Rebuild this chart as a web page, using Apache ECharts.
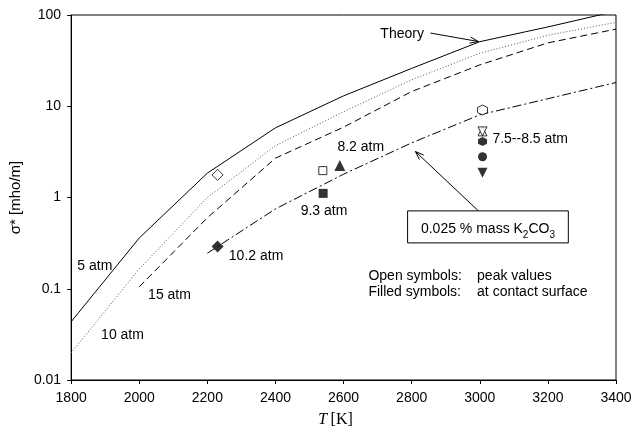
<!DOCTYPE html>
<html>
<head>
<meta charset="UTF-8"/>
<title>sigma vs T</title>
<style>
    * { margin: 0; padding: 0; }
    body { background: #fff; }
    #main { width: 639px; height: 437px; }
</style>
<script src="https://cdn.jsdelivr.net/npm/echarts@6/dist/echarts.min.js"></script>
</head>
<body>
<div id="main"></div>
<script>
    // temperature grid of the curves
    const temps = [1800, 2000, 2200, 2400, 2600, 2800, 3000, 3200, 3400]
    const theory5 = [0.0435, 0.36, 1.85, 5.8, 13, 26, 51, 74, 110]
    const theory10 = [0.0198, 0.165, 1.0, 3.7, 8.7, 19.5, 38, 60, 83]
    const theory15 = [null, 0.105, 0.6, 2.7, 5.9, 14.5, 28.4, 49.5, 70]
    const k2co3 = [null, null, 0.245, 0.75, 1.8, 3.97, 8.05, 12.1, 18.2]

    // measured points  [T, sigma, symbol, size, rotate]
    const hexagon = 'path://M0,-10 L8.66,-5 L8.66,5 L0,10 L-8.66,5 L-8.66,-5 Z'
    const openPts = [
        [2230, 1.77, 'diamond', 11, 0],
        [2539, 1.97, 'rect', 8, 0],
        [3008, 9.1, hexagon, 10, 0],
        [3008, 5.3, 'triangle', 9, 0],
        [3008, 5.3, 'triangle', 9, 180]
    ]
    const filledPts = [
        [2230, 0.29, 'diamond', 12, 0],
        [2540, 1.11, 'rect', 9, 0],
        [2589, 2.24, 'triangle', 11, 0],
        [3008, 4.1, hexagon, 9, 0],
        [3008, 2.8, 'circle', 9, 0],
        [3008, 1.87, 'triangle', 10, 180]
    ]

    // annotations in data coordinates [T, sigma, text]
    const notes = [
        [2708, 62, 'Theory'],
        [2582, 3.6, '8.2 atm'],
        [3037, 4.4, '7.5--8.5 atm'],
        [2474, 0.71, '9.3 atm'],
        [2263, 0.225, '10.2 atm'],
        [1818, 0.179, '5 atm'],
        [2026, 0.0855, '15 atm'],
        [1888, 0.031, '10 atm'],
        [2673, 0.139, 'Open symbols:'],
        [2992, 0.139, 'peak values'],
        [2673, 0.092, 'Filled symbols:'],
        [2992, 0.092, 'at contact surface']
    ]
    const arrows = [
        [[2855, 63.4], [2996, 51.2]],
        [[2996, 0.713], [2811, 3.19]]
    ]
    const boxCorners = [[2788, 0.713], [3260, 0.318]]

    const font = '"Liberation Sans", Arial, sans-serif'
    const chart = echarts.init(document.getElementById('main'))

    function pairs(ys, xs) {
        return xs.map((x, i) => [x, ys[i]]).filter(p => p[1] != null)
    }

    function line(name, ys, type, color) {
        return {
            name: name,
            type: 'line',
            data: pairs(ys, temps),
            showSymbol: false,
            silent: true,
            clip: true,
            lineStyle: {color: color, width: 1, type: type}
        }
    }

    function scatter(pts, filled) {
        return {
            type: 'scatter',
            silent: true,
            data: pts.map(p => ({
                value: [p[0], p[1]],
                symbol: p[2],
                symbolSize: p[3],
                symbolRotate: p[4]
            })),
            itemStyle: filled
                ? {color: '#000'}
                : {color: '#fff', borderColor: '#000', borderWidth: 1},
            z: 5
        }
    }

    chart.setOption({
        animation: false,
        backgroundColor: '#fff',
        grid: {left: 70, right: 23, top: 15, bottom: 57, show: true, borderColor: '#000', borderWidth: 1},
        xAxis: {
            type: 'value',
            min: 1800, max: 3400, interval: 200,
            splitLine: {show: false},
            axisLine: {lineStyle: {color: '#000'}},
            axisTick: {length: 4, lineStyle: {color: '#000'}},
            axisLabel: {color: '#000', fontFamily: font, fontSize: 14, margin: 11, formatter: v => String(v)},
            name: '{it|T} {n|[K]}',
            nameLocation: 'middle',
            nameGap: 32,
            nameTextStyle: {
                padding: [0, 16, 0, 0],
                rich: {
                    it: {fontFamily: '"Liberation Serif", serif', fontStyle: 'italic', fontSize: 16, color: '#000'},
                    n: {fontFamily: '"Liberation Serif", serif', fontSize: 16, color: '#000'}
                }
            }
        },
        yAxis: {
            type: 'log',
            logBase: 10,
            min: 0.01, max: 100,
            splitLine: {show: false},
            minorTick: {show: false},
            axisLine: {lineStyle: {color: '#000'}},
            axisTick: {length: 4, lineStyle: {color: '#000'}},
            axisLabel: {color: '#000', fontFamily: font, fontSize: 14, margin: 10},
            name: 'σ* [mho/m]',
            nameLocation: 'middle',
            nameGap: 48,
            nameTextStyle: {color: '#000', fontFamily: font, fontSize: 15}
        },
        series: [
            line('5 atm', theory5, 'solid', '#000'),
            line('10 atm', theory10, [1, 2], '#555'),
            line('15 atm', theory15, [7, 4], '#000'),
            line('K2CO3', k2co3, [9, 3, 2, 3], '#000'),
            scatter(openPts, false),
            scatter(filledPts, true)
        ]
    })

    // annotations placed from data coordinates
    const px = p => chart.convertToPixel({gridIndex: 0}, p)
    const graphics = []

    notes.forEach(n => {
        const p = px([n[0], n[1]])
        graphics.push({
            type: 'text', x: p[0], y: p[1], z: 10,
            style: {text: n[2], font: '14px ' + font, fill: '#000', verticalAlign: 'middle'}
        })
    })

    arrows.forEach(a => {
        const p0 = px(a[0]), p1 = px(a[1])
        const ang = Math.atan2(p1[1] - p0[1], p1[0] - p0[0])
        const len = 9, spread = 0.35
        const h1 = [p1[0] - len * Math.cos(ang - spread), p1[1] - len * Math.sin(ang - spread)]
        const h2 = [p1[0] - len * Math.cos(ang + spread), p1[1] - len * Math.sin(ang + spread)]
        graphics.push({type: 'polyline', z: 10, shape: {points: [p0, p1]}, style: {stroke: '#000', lineWidth: 1, fill: null}})
        graphics.push({type: 'polyline', z: 10, shape: {points: [h1, p1, h2]}, style: {stroke: '#000', lineWidth: 1, fill: null}})
    })

    const b0 = px(boxCorners[0]), b1 = px(boxCorners[1])
    graphics.push({
        type: 'rect', z: 10,
        shape: {x: b0[0], y: b0[1], width: b1[0] - b0[0], height: b1[1] - b0[1]},
        style: {fill: '#fff', stroke: '#000', lineWidth: 1}
    })
    graphics.push({
        type: 'text', z: 11,
        x: (b0[0] + b1[0]) / 2, y: (b0[1] + b1[1]) / 2 + 2,
        style: {
            text: '{m|0.025 % mass K}{s|2}{m|CO}{s|3}',
            fill: '#000',
            align: 'center',
            verticalAlign: 'middle',
            rich: {
                m: {fontSize: 14, fontFamily: font, lineHeight: 22, verticalAlign: 'middle'},
                s: {fontSize: 10, fontFamily: font, lineHeight: 22, verticalAlign: 'bottom'}
            }
        }
    })

    chart.setOption({graphic: graphics})
</script>
</body>
</html>
